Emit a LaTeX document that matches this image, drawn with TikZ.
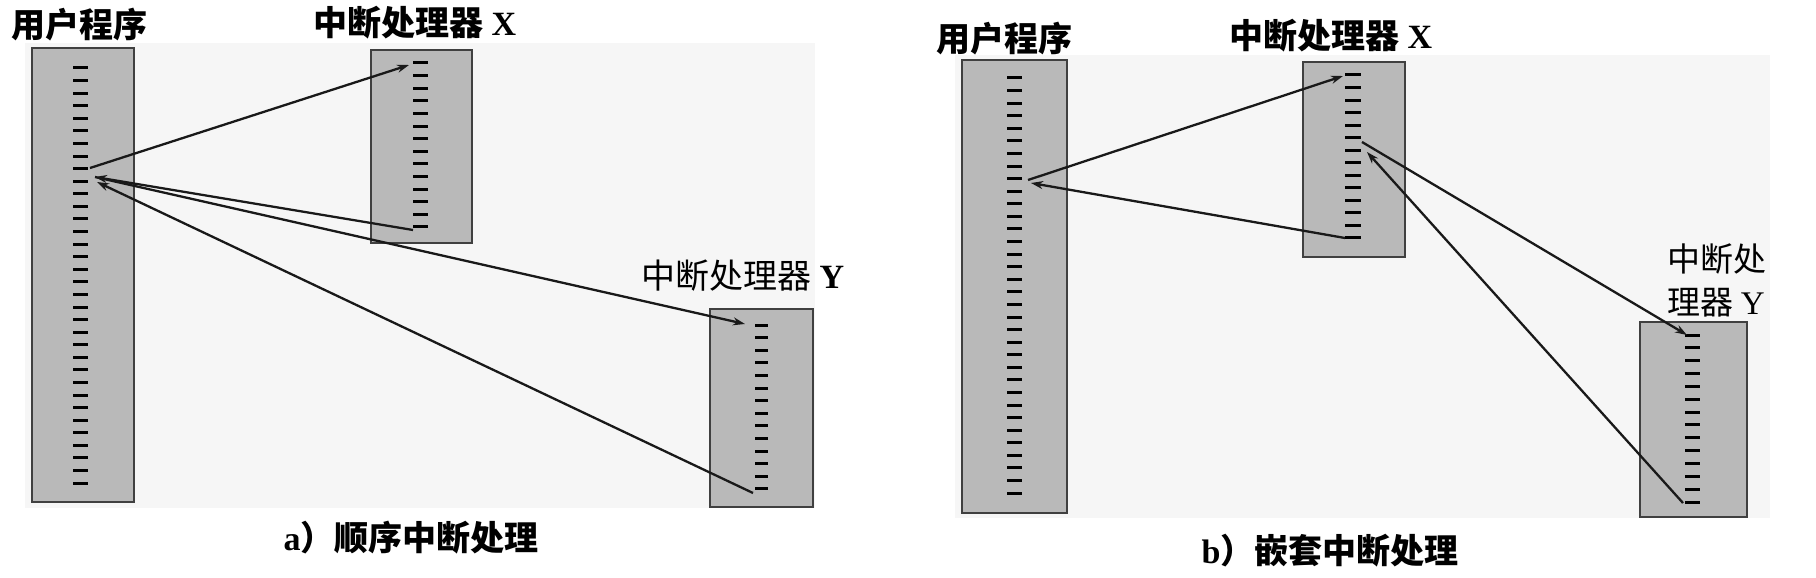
\documentclass[tikz,border=0pt]{standalone}
\usepackage{fontspec}
\newfontfamily\cjk{Noto Sans CJK SC}
\newfontfamily\lat{Liberation Serif}
\usetikzlibrary{arrows.meta}
\tikzset{
  prog/.style={draw=black!75, line width=2.2pt, fill=gray!55, inner sep=0pt},
  tickmark/.style={line width=3pt, black},
  flow/.style={line width=2.3pt, black!90, -{Stealth[length=12pt,width=8pt]}},
  panel/.style={fill=gray!7},
  lab/.style={inner sep=0pt, font=\fontsize{34}{40}\selectfont},
  captxt/.style={inner sep=0pt, font=\fontsize{34}{40}\selectfont},
}
\begin{document}
\begin{tikzpicture}[x=1pt,y=-1pt]
\useasboundingbox (0,0) rectangle (1816,578);
\fill[white] (0,0) rectangle (1816,578);
% panel backgrounds
\fill[panel] (25,43) rectangle (815,508);
\fill[panel] (955,55) rectangle (1770,518);

% ---------- panel a ----------
\node[prog, minimum width=102pt, minimum height=454pt] (ua) at (83,275) {};
\node[prog, minimum width=101pt, minimum height=193pt] (xa) at (421.5,146.5) {};
\node[prog, minimum width=103pt, minimum height=198pt] (ya) at (761.5,408) {};
\foreach \i in {0,...,33} \draw[tickmark] (73,{68+\i*12.58}) -- (88,{68+\i*12.58});
\foreach \i in {0,...,13} \draw[tickmark] (413,{63+\i*12.6}) -- (428,{63+\i*12.6});
\foreach \i in {0,...,13} \draw[tickmark] (755,{325+\i*12.6}) -- (768,{325+\i*12.6});

\coordinate (ua1) at (90,168);
\coordinate (ua2) at (95,177);
\coordinate (ua3) at (97,182);
\coordinate (xa1) at (409,65);
\coordinate (xa2) at (413,230);
\coordinate (ya1) at (745,324);
\coordinate (ya2) at (753,493);
\draw[flow] (ua1) -- (xa1);
\draw[flow] (xa2) -- (ua2);
\draw[flow] (ua2) -- (ya1);
\draw[flow] (ya2) -- (ua3);

\node[lab] (ula) at (80,25) {\cjk\bfseries 用户程序};
\node[lab] (xla) at (415,23) {\cjk\bfseries 中断处理器\ {\lat\bfseries X}};
\node[lab] (yla) at (743,276) {\cjk 中断处理器\ {\lat\bfseries Y}};
\node[captxt] (capa) at (411,538) {{\lat\bfseries a}\cjk\bfseries ）顺序中断处理};

% ---------- panel b ----------
\node[prog, minimum width=105pt, minimum height=453pt] (ub) at (1014.5,286.5) {};
\node[prog, minimum width=102pt, minimum height=195pt] (xb) at (1354,159.5) {};
\node[prog, minimum width=107pt, minimum height=195pt] (yb) at (1693.5,419.5) {};
\foreach \i in {0,...,33} \draw[tickmark] (1007,{78+\i*12.58}) -- (1022,{78+\i*12.58});
\foreach \i in {0,...,13} \draw[tickmark] (1345,{75+\i*12.5}) -- (1361,{75+\i*12.5});
\foreach \i in {0,...,13} \draw[tickmark] (1685,{335+\i*12.85}) -- (1700,{335+\i*12.85});

\coordinate (ub1) at (1028,180);
\coordinate (ub2) at (1031,183);
\coordinate (xb1) at (1343,76);
\coordinate (xb2) at (1345,238);
\coordinate (xb3) at (1362,142);
\coordinate (xb4) at (1367,152);
\coordinate (yb1) at (1687,335);
\coordinate (yb2) at (1683,503);
\draw[flow] (ub1) -- (xb1);
\draw[flow] (xb2) -- (ub2);
\draw[flow] (xb3) -- (yb1);
\draw[flow] (yb2) -- (xb4);

\node[lab] (ulb) at (1004,39) {\cjk\bfseries 用户程序};
\node[lab] (xlb) at (1331,36) {\cjk\bfseries 中断处理器\ {\lat\bfseries X}};
\node[lab, align=left, font=\fontsize{33}{43}\selectfont] (ylb) at (1717,280) {\cjk 中断处\\\cjk 理器\ {\lat Y}};
\node[captxt] (capb) at (1330,551) {{\lat\bfseries b}\cjk\bfseries ）嵌套中断处理};
\end{tikzpicture}
\end{document}
